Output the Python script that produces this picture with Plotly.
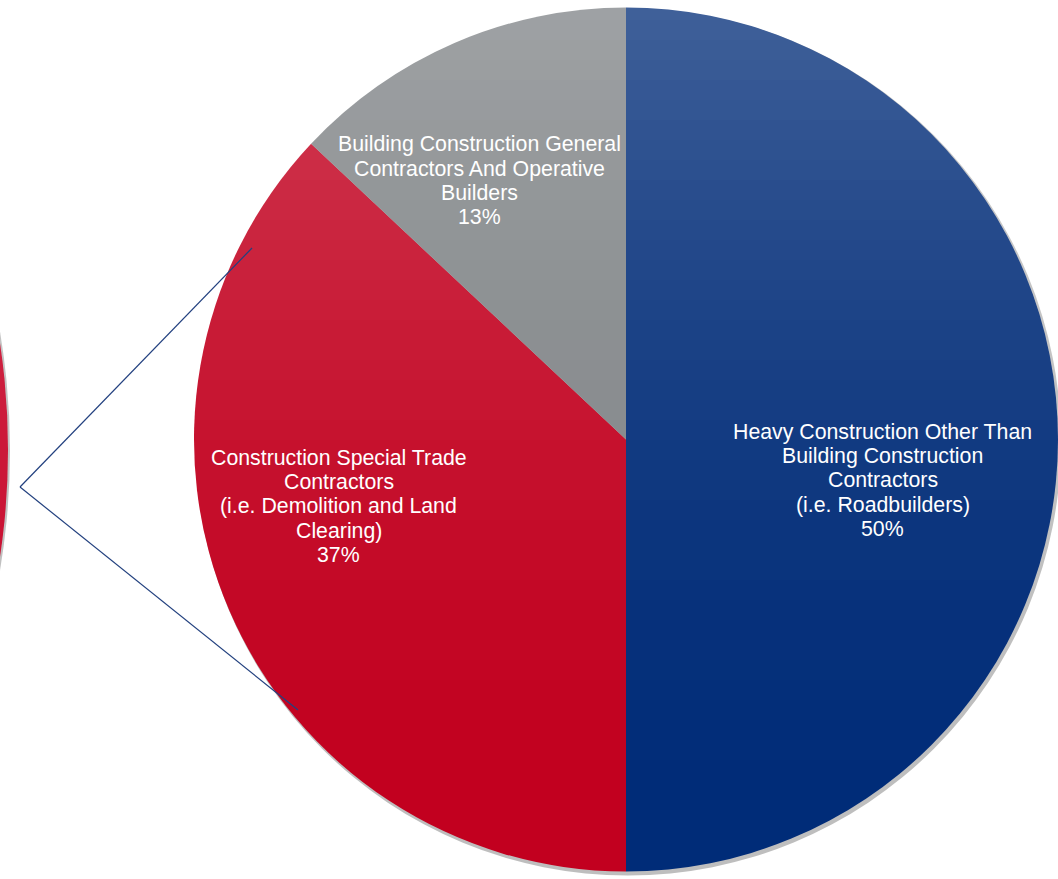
import math
import plotly.graph_objects as go

W, H = 1058, 879

labels = [
    "Heavy Construction Other Than<br>Building Construction<br>Contractors<br>(i.e. Roadbuilders)",
    "Construction Special Trade<br>Contractors<br>(i.e. Demolition and Land<br>Clearing)",
    "Building Construction General<br>Contractors And Operative<br>Builders",
]
values = [50, 37, 13]
colors = ["#002c78", "#c2001f", "#7f8386"]


def px(x):
    return x / W


def py(y):
    return 1 - y / H


# pie geometry (pixels)
cx, cy, r = 626, 439.5, 432

fig = go.Figure()
fig.add_trace(go.Pie(
    labels=labels,
    values=values,
    sort=False,
    direction="clockwise",
    rotation=0,
    marker=dict(colors=colors, line=dict(width=0)),
    textinfo="none",
    hoverinfo="label+percent",
    domain=dict(x=[px(cx - r), 1.0], y=[0.0, 1.0]),
    showlegend=False,
))

shapes = []
# soft drop shadow of main pie
shapes.append(dict(type="circle", xref="paper", yref="paper",
                   x0=px(cx - r + 1), x1=px(cx + r + 3), y0=py(cy + r + 4), y1=py(cy - r + 1),
                   fillcolor="rgba(110,110,110,0.45)", line=dict(width=0), layer="below"))
# edge of the secondary pie on the left
lcx, lcy, lr = -711, 450, 719
shapes.append(dict(type="circle", xref="paper", yref="paper",
                   x0=px(lcx - lr), x1=px(lcx + lr + 2), y0=py(lcy + lr + 2), y1=py(lcy - lr),
                   fillcolor="rgba(110,110,110,0.45)", line=dict(width=0), layer="below"))
shapes.append(dict(type="circle", xref="paper", yref="paper",
                   x0=px(lcx - lr), x1=px(lcx + lr), y0=py(lcy + lr), y1=py(lcy - lr),
                   fillcolor="#c8082b", line=dict(width=0), layer="below"))

# vertical light gradient (white veil that fades downward)
nb = 44
for i in range(nb):
    y0 = 880 * i / nb
    y1 = 880 * (i + 1) / nb
    t = max(0.0, (872 - (y0 + y1) / 2) / 866)
    a = 0.25 * t ** 1.8
    if a < 0.004:
        continue
    shapes.append(dict(type="rect", xref="paper", yref="paper",
                       x0=0, x1=1, y0=py(y1), y1=py(y0),
                       fillcolor="white", opacity=a, line=dict(width=0), layer="above"))

# connector lines
for (x1, y1) in [(252, 248), (298, 710)]:
    shapes.append(dict(type="line", xref="paper", yref="paper",
                       x0=px(20), y0=py(487), x1=px(x1), y1=py(y1),
                       line=dict(color="#23417f", width=1.2), layer="above"))

# data labels placed along each slice's angle
label_r = [0.602, 0.683, 0.688]
label_dang = [9.06, 10.28, -6.14]
line_h = 24.3
total = sum(values)
annotations = []
cum = 0
for lab, v, rf, da in zip(labels, values, label_r, label_dang):
    mid = (cum + v / 2) / total * 360 + da
    cum += v
    lx = cx + rf * r * math.sin(math.radians(mid))
    ly = cy - rf * r * math.cos(math.radians(mid))
    lines = lab.split("<br>") + [f"{round(100 * v / total)}%"]
    n = len(lines)
    for i, s in enumerate(lines):
        annotations.append(dict(
            x=px(lx), y=py(ly), xref="paper", yref="paper",
            text=s, showarrow=False, xanchor="center", yanchor="middle",
            yshift=-(i - (n - 1) / 2) * line_h,
            font=dict(family="Liberation Sans, Arial, sans-serif", size=21.3, color="white"),
        ))

fig.update_layout(
    width=W, height=H,
    margin=dict(l=0, r=0, t=0, b=0),
    paper_bgcolor="white",
    plot_bgcolor="white",
    shapes=shapes,
    annotations=annotations,
)

fig.write_html("out.html")
